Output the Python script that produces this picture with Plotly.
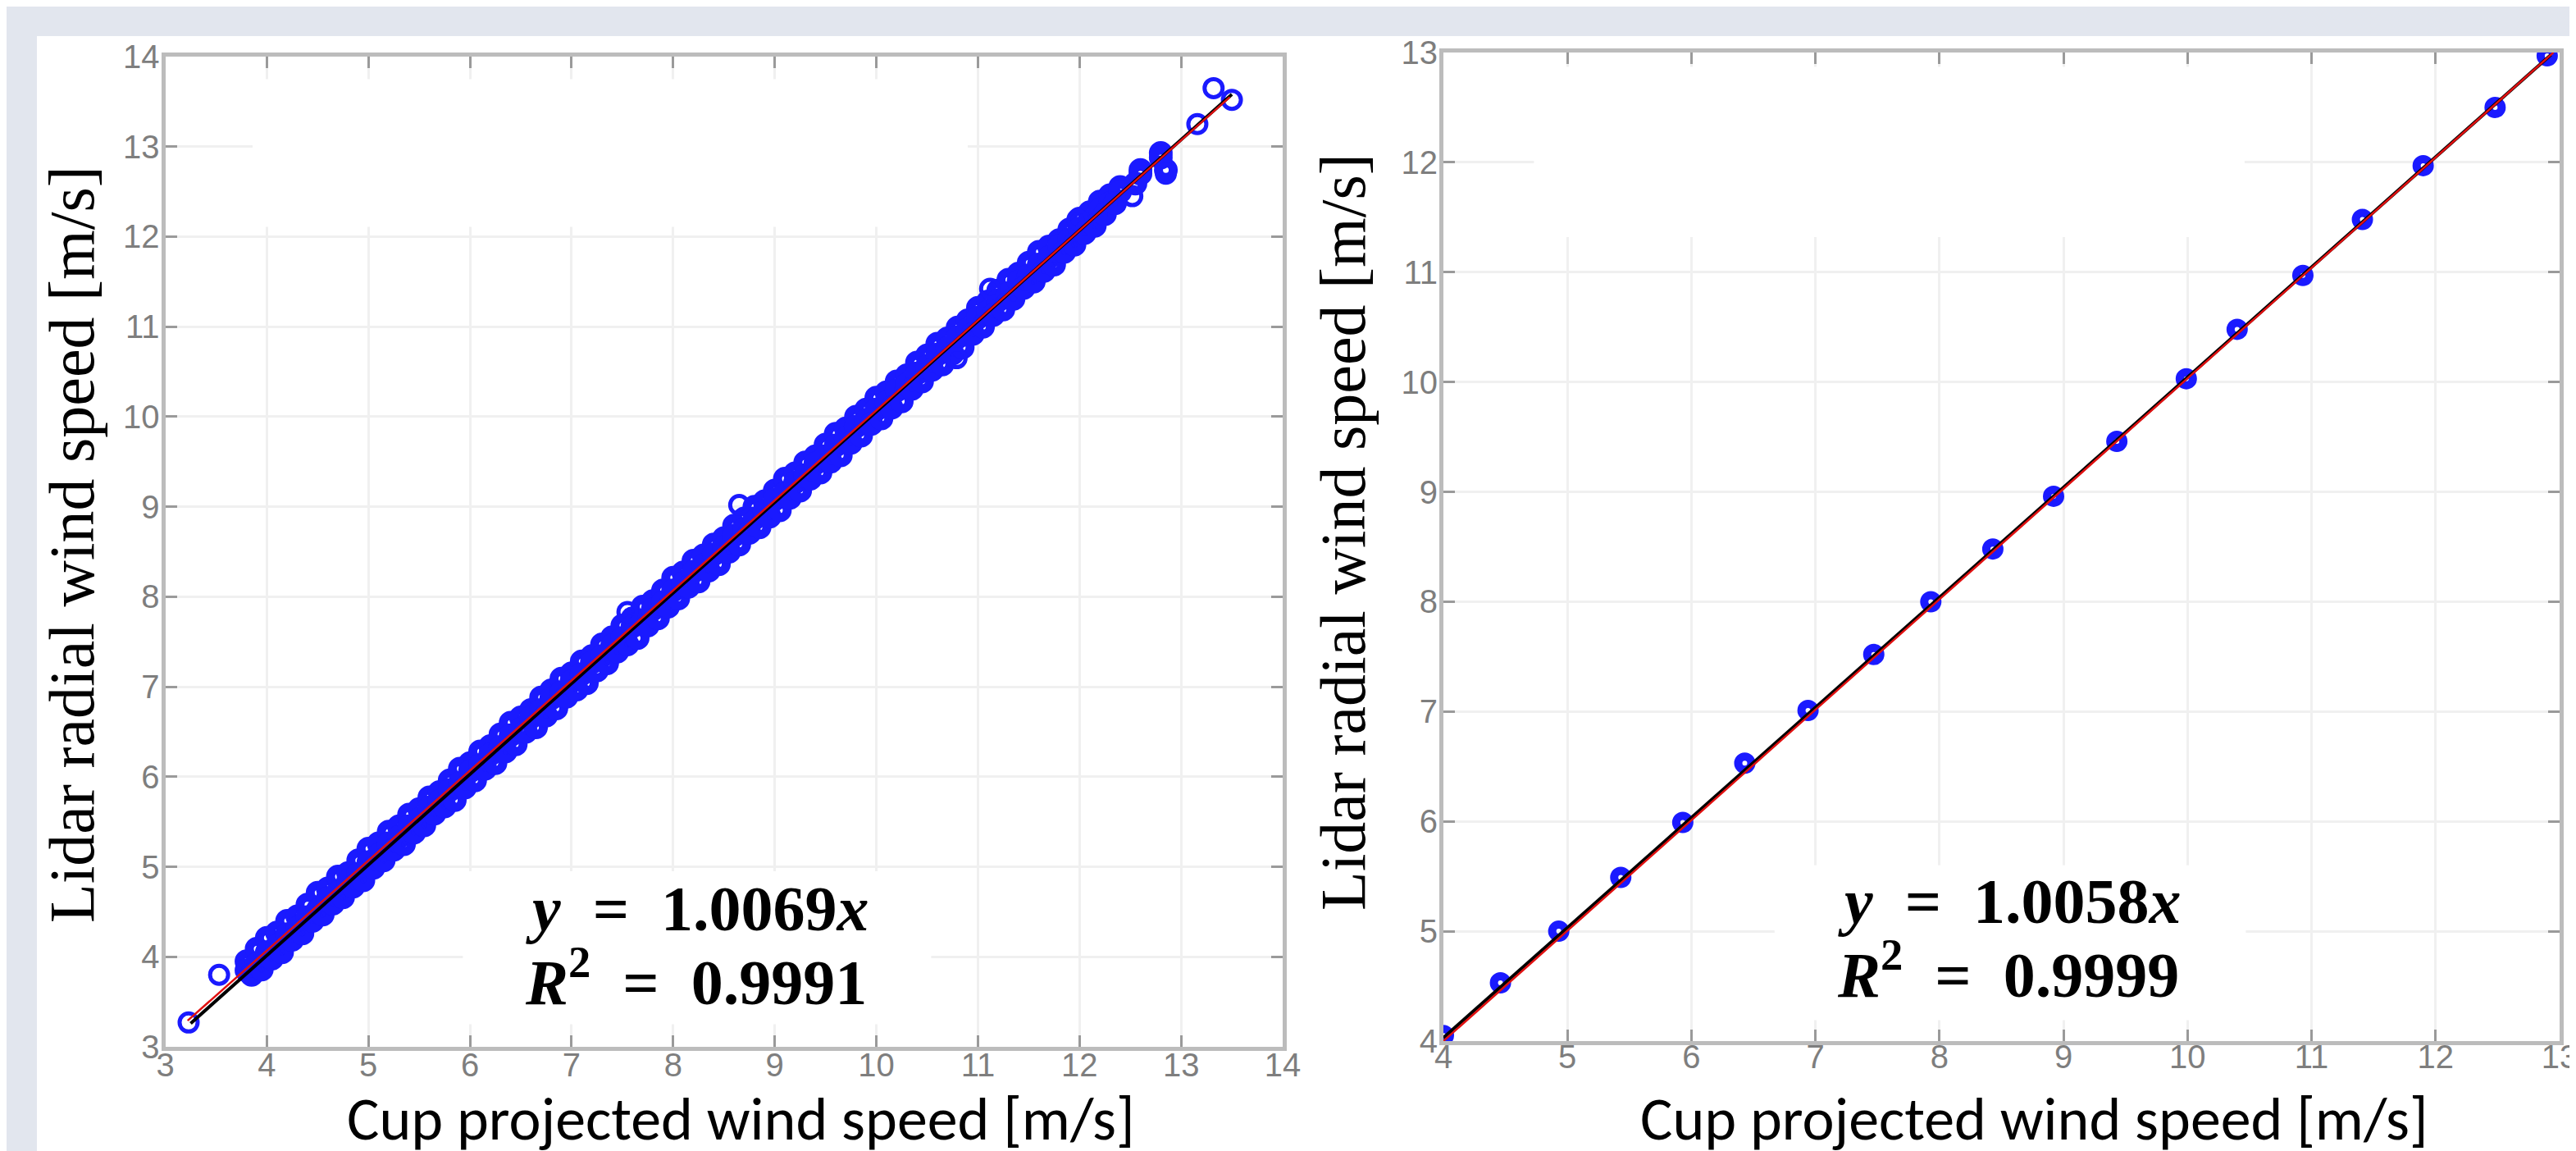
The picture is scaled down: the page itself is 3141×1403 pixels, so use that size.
import plotly.graph_objects as go

W, H = 3141, 1403

# ---------------- data: left panel (10-min scatter) ----------------
left_x_upper = [3.80, 3.90, 4.00, 4.10, 4.20, 4.30, 4.40, 4.50, 4.60, 4.70, 4.80, 4.90, 5.00, 5.10, 5.20,
                5.30, 5.40, 5.50, 5.60, 5.70, 5.80, 5.90, 6.00, 6.10, 6.20, 6.30, 6.40, 6.50, 6.60, 6.70,
                6.80, 6.90, 7.00, 7.10, 7.20, 7.30, 7.40, 7.50, 7.60, 7.70, 7.80, 7.90, 8.00, 8.10, 8.20,
                8.30, 8.40, 8.50, 8.60, 8.70, 8.80, 8.90, 9.00, 9.10, 9.20, 9.30, 9.40, 9.50, 9.60, 9.70,
                9.80, 9.90, 10.00, 10.10, 10.20, 10.30, 10.40, 10.50, 10.60, 10.70, 10.80, 10.90, 11.00,
                11.10, 11.20, 11.30, 11.40, 11.50, 11.60, 11.70, 11.80, 11.90, 12.00, 12.10, 12.20, 12.30,
                12.40, 12.60, 12.80]
left_y_upper = [3.95, 4.09, 4.21, 4.27, 4.40, 4.45, 4.58, 4.71, 4.76, 4.89, 4.93, 5.07, 5.20, 5.26, 5.39,
                5.45, 5.58, 5.64, 5.77, 5.83, 5.96, 6.09, 6.15, 6.28, 6.34, 6.47, 6.60, 6.66, 6.74, 6.88,
                6.96, 7.09, 7.15, 7.28, 7.34, 7.47, 7.55, 7.68, 7.76, 7.89, 7.95, 8.07, 8.21, 8.27, 8.40,
                8.46, 8.58, 8.65, 8.79, 8.87, 9.00, 9.06, 9.18, 9.31, 9.37, 9.49, 9.56, 9.69, 9.81, 9.87,
                10.00, 10.08, 10.21, 10.27, 10.39, 10.46, 10.60, 10.68, 10.81, 10.87, 10.99, 11.07, 11.21,
                11.28, 11.40, 11.52, 11.59, 11.71, 11.83, 11.89, 11.96, 12.08, 12.20, 12.27, 12.39, 12.46,
                12.55, 12.74, 12.93]
left_y_center = [3.85, 3.92, 4.05, 4.12, 4.25, 4.32, 4.44, 4.52, 4.65, 4.72,
                 4.84, 4.92, 5.05, 5.13, 5.26, 5.33, 5.45, 5.53, 5.66, 5.73,
                 5.85, 5.93, 6.06, 6.13, 6.25, 6.33, 6.46, 6.53, 6.66, 6.74,
                 6.87, 6.94, 7.06, 7.14, 7.27, 7.34, 7.46, 7.54, 7.67, 7.74,
                 7.86, 7.94, 8.07, 8.15, 8.28, 8.35, 8.47, 8.55, 8.68, 8.75,
                 8.87, 8.95, 9.08, 9.15, 9.27, 9.35, 9.48, 9.56, 9.68, 9.76,
                 9.89, 9.96, 10.08, 10.16, 10.29, 10.36, 10.48, 10.56, 10.69, 10.76,
                 10.88, 10.97, 11.10, 11.17, 11.29, 11.37, 11.50, 11.57, 11.69, 11.77,
                 11.90, 11.97, 12.09, 12.17, 12.30, 12.37, 12.50, 12.70, 12.88]
left_x_lower = [3.85, 3.95, 4.05, 4.15, 4.25, 4.35, 4.45, 4.55, 4.65, 4.75, 4.85, 4.95, 5.05, 5.15, 5.25,
                5.35, 5.45, 5.55, 5.65, 5.75, 5.85, 5.95, 6.05, 6.15, 6.25, 6.35, 6.45, 6.55, 6.65, 6.75,
                6.85, 6.95, 7.05, 7.15, 7.25, 7.35, 7.45, 7.55, 7.65, 7.75, 7.85, 7.95, 8.05, 8.15, 8.25,
                8.35, 8.45, 8.55, 8.65, 8.75, 8.85, 8.95, 9.05, 9.15, 9.25, 9.35, 9.45, 9.55, 9.65, 9.75,
                9.85, 9.95, 10.05, 10.15, 10.25, 10.35, 10.45, 10.55, 10.65, 10.75, 10.85, 10.95, 11.05,
                11.15, 11.25, 11.35, 11.45, 11.55, 11.65, 11.75, 11.85, 11.95, 12.05, 12.15, 12.25, 12.35,
                12.55, 12.85]
left_y_lower = [3.80, 3.86, 3.98, 4.05, 4.19, 4.26, 4.40, 4.47, 4.59, 4.66, 4.78, 4.85, 4.99, 5.07, 5.19,
                5.25, 5.38, 5.46, 5.59, 5.67, 5.74, 5.88, 5.96, 6.09, 6.15, 6.28, 6.36, 6.50, 6.55, 6.68,
                6.76, 6.89, 6.97, 7.04, 7.18, 7.26, 7.39, 7.47, 7.54, 7.68, 7.76, 7.89, 7.98, 8.11, 8.17,
                8.29, 8.36, 8.50, 8.58, 8.71, 8.77, 8.89, 8.96, 9.10, 9.18, 9.31, 9.38, 9.50, 9.57, 9.71,
                9.79, 9.92, 9.98, 10.10, 10.17, 10.31, 10.39, 10.52, 10.58, 10.70, 10.77, 10.92, 11.00,
                11.13, 11.19, 11.31, 11.43, 11.50, 11.62, 11.69, 11.83, 11.91, 12.04, 12.12, 12.25, 12.37,
                12.59, 12.74]
left_x_isolated = [3.23, 3.53, 7.55, 8.65, 11.12, 10.79, 12.85, 13.32, 13.50, 13.16, 12.52, 11.98]
left_y_isolated = [3.27, 3.80, 7.83, 9.02, 11.42, 10.65, 12.70, 13.65, 13.52, 13.25, 12.45, 12.19]

left_black_x = [3.25, 13.50]
left_black_y = [3.26, 13.58]
left_red_x = [3.22, 13.48]
left_red_y = [3.29, 13.55]

# ---------------- data: right panel (binned) ----------------
right_x = [4.00, 4.46, 4.93, 5.43, 5.93, 6.43, 6.94, 7.47, 7.93, 8.43, 8.92, 9.43, 9.99, 10.40,
           10.93, 11.41, 11.90, 12.48, 12.90]
right_y = [4.05, 4.53, 5.00, 5.49, 5.99, 6.53, 7.01, 7.52, 8.00, 8.48, 8.96, 9.46, 10.03, 10.48,
           10.97, 11.48, 11.97, 12.50, 12.97]
right_black_x = [4.00, 12.93]
right_black_y = [4.03, 12.98]
right_red_x = [4.00, 12.95]
right_red_y = [4.00, 13.00]

left_ticks = [3, 4, 5, 6, 7, 8, 9, 10, 11, 12, 13, 14]
right_ticks = [4, 5, 6, 7, 8, 9, 10, 11, 12, 13]

eq_left = ["<b><i>y</i>\u00a0\u00a0=\u00a0\u00a01.0069<i>x</i></b>",
           "<b><i>R</i><sup>2</sup>\u00a0\u00a0=\u00a0\u00a00.9991</b>"]
eq_right = ["<b><i>y</i>\u00a0\u00a0=\u00a0\u00a01.0058<i>x</i></b>",
            "<b><i>R</i><sup>2</sup>\u00a0\u00a0=\u00a0\u00a00.9999</b>"]
ylabel = "Lidar radial wind speed [m/s]"
xlabel = "Cup projected wind speed [m/s]"

BLUE = "#1a1aff"
MARK_BAND = dict(symbol="circle-open", size=18, color=BLUE, line=dict(width=11, color=BLUE))
MARK_ISO = dict(symbol="circle-open", size=22, color=BLUE, line=dict(width=5, color=BLUE))
MARK_R = dict(symbol="circle-open", size=16, color=BLUE, line=dict(width=10, color=BLUE))

fig = go.Figure()
for xs, ys, mk in [(left_x_upper, left_y_upper, MARK_BAND), (left_x_upper, left_y_center, MARK_BAND),
                   (left_x_lower, left_y_lower, MARK_BAND), (left_x_isolated, left_y_isolated, MARK_ISO)]:
    fig.add_trace(go.Scatter(x=xs, y=ys, mode="markers", marker=mk, xaxis="x", yaxis="y",
                             showlegend=False, hoverinfo="skip"))
fig.add_trace(go.Scatter(x=left_black_x, y=left_black_y, mode="lines", line=dict(color="#000000", width=4),
                         xaxis="x", yaxis="y", showlegend=False))
fig.add_trace(go.Scatter(x=left_red_x, y=left_red_y, mode="lines", line=dict(color="#e01010", width=2.5),
                         xaxis="x", yaxis="y", showlegend=False))

fig.add_trace(go.Scatter(x=right_x, y=right_y, mode="markers", marker=MARK_R, xaxis="x2", yaxis="y2",
                         showlegend=False, hoverinfo="skip"))
fig.add_trace(go.Scatter(x=right_black_x, y=right_black_y, mode="lines", line=dict(color="#000000", width=4),
                         xaxis="x2", yaxis="y2", showlegend=False))
fig.add_trace(go.Scatter(x=right_red_x, y=right_red_y, mode="lines", line=dict(color="#e01010", width=2.5),
                         xaxis="x2", yaxis="y2", showlegend=False))


def px_x(p):
    return p / W


def px_y(p):
    return 1 - p / H


tickfont = dict(family="Liberation Sans, Arial, sans-serif", size=40, color="#7e7e7e")
axis_common = dict(showline=True, linecolor="#bcbcbc", linewidth=5, mirror="ticks",
                   ticks="inside", ticklen=14, tickwidth=3, tickcolor="#9a9a9a",
                   showgrid=True, gridcolor="#f0f0f0", gridwidth=3, zeroline=False,
                   tickfont=tickfont, fixedrange=True, automargin=False)

fig.update_layout(
    width=W, height=H, autosize=False,
    margin=dict(l=0, r=0, t=0, b=0, pad=0, autoexpand=False),
    paper_bgcolor="white", plot_bgcolor="white",
    showlegend=False,
    xaxis=dict(domain=[px_x(193.5), px_x(1556)], range=[3, 14], tickvals=left_ticks, anchor="y",
               ticklabelstandoff=-17, **axis_common),
    yaxis=dict(domain=[px_y(1268), px_y(61)], range=[3, 14], tickvals=left_ticks, anchor="x",
               ticklabelstandoff=-6, **axis_common),
    xaxis2=dict(domain=[px_x(1752), px_x(3113)], range=[4, 13], tickvals=right_ticks, anchor="y2",
                ticklabelstandoff=-20, **axis_common),
    yaxis2=dict(domain=[px_y(1261), px_y(56)], range=[4, 13], tickvals=right_ticks, anchor="x2",
                ticklabelstandoff=-6, **axis_common),
)

WHITE_BOX = dict(type="rect", fillcolor="white", line=dict(width=0), layer="between")
shapes = [
    dict(type="rect", xref="paper", yref="paper", x0=0, x1=1, y0=px_y(36), y1=1,
         fillcolor="#e2e6ee", line=dict(width=0), layer="below"),
    dict(type="rect", xref="paper", yref="paper", x0=0, x1=px_x(37), y0=0, y1=1,
         fillcolor="#e2e6ee", line=dict(width=0), layer="below"),
    # white boxes masking grid lines (as in the source figure)
    dict(WHITE_BOX, xref="x", yref="y", x0=3.86, x1=10.90, y0=12.11, y1=13.75),
    dict(WHITE_BOX, xref="x", yref="y", x0=5.93, x1=10.54, y0=3.25, y1=4.95),
    dict(WHITE_BOX, xref="x2", yref="y2", x0=4.73, x1=10.46, y0=11.32, y1=12.87),
    dict(WHITE_BOX, xref="x2", yref="y2", x0=6.67, x1=10.47, y0=4.19, y1=5.60),
]
fig.update_layout(shapes=shapes)

eqfont = dict(family="Liberation Serif, Times New Roman, serif", size=78, color="black")
labfont = dict(family="Liberation Serif, Times New Roman, serif", size=78, color="black")
xlabfont = dict(family="Carlito, Lato, sans-serif", size=74, color="black")

ann = []
ann.append(dict(text=eq_left[0], x=px_x(842), y=px_y(1145), xref="paper", yref="paper",
                xanchor="center", yanchor="bottom", showarrow=False, font=eqfont))
ann.append(dict(text=eq_left[1], x=px_x(841), y=px_y(1235), xref="paper", yref="paper",
                xanchor="center", yanchor="bottom", showarrow=False, font=eqfont))
ann.append(dict(text=eq_right[0], x=px_x(2442), y=px_y(1136), xref="paper", yref="paper",
                xanchor="center", yanchor="bottom", showarrow=False, font=eqfont))
ann.append(dict(text=eq_right[1], x=px_x(2440), y=px_y(1226), xref="paper", yref="paper",
                xanchor="center", yanchor="bottom", showarrow=False, font=eqfont))
ann.append(dict(text=ylabel, x=px_x(79), y=px_y(656), xref="paper", yref="paper", textangle=-90,
                xanchor="center", yanchor="middle", showarrow=False, font=labfont))
ann.append(dict(text=ylabel, x=px_x(1629), y=px_y(640), xref="paper", yref="paper", textangle=-90,
                xanchor="center", yanchor="middle", showarrow=False, font=labfont))
ann.append(dict(text=xlabel, x=px_x(895), y=px_y(1356), xref="paper", yref="paper",
                xanchor="center", yanchor="middle", showarrow=False, font=xlabfont))
ann.append(dict(text=xlabel, x=px_x(2472), y=px_y(1356), xref="paper", yref="paper",
                xanchor="center", yanchor="middle", showarrow=False, font=xlabfont))
fig.update_layout(annotations=ann)

fig.write_html("out.html")
